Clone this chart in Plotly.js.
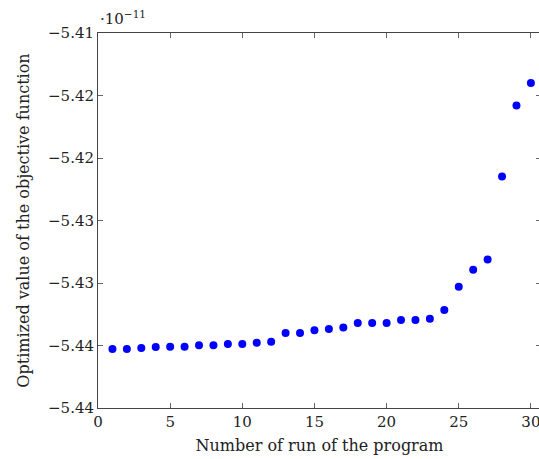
<!DOCTYPE html>
<html>
<head>
<meta charset="utf-8">
<script src="https://cdn.plot.ly/plotly-3.0.1.min.js"></script>
<style>
  html, body { margin: 0; padding: 0; background: #fff; overflow: hidden; }
  #chart { width: 542px; height: 459px; }
</style>
</head>
<body>
<div id="chart"></div>
<script>
// Run index of the program (1..30)
const runs = [1, 2, 3, 4, 5, 6, 7, 8, 9, 10, 11, 12, 13, 14, 15,
              16, 17, 18, 19, 20, 21, 22, 23, 24, 25, 26, 27, 28, 29, 30];

// Optimized objective value for each run, in units of 1e-11
const objective = [-5.43528, -5.43528, -5.43520, -5.43512, -5.43510, -5.43510,
                   -5.43499, -5.43499, -5.43488, -5.43488, -5.43478, -5.43470,
                   -5.43400, -5.43400, -5.43378, -5.43368, -5.43355, -5.43320,
                   -5.43320, -5.43320, -5.43296, -5.43296, -5.43286, -5.43216,
                   -5.43030, -5.42894, -5.42811, -5.42147, -5.41579, -5.41400];

// Axis ticks (labels are rounded to two decimals)
const yTickVals = [-5.440, -5.435, -5.430, -5.425, -5.420, -5.415, -5.410];
const yTickText = ['\u22125.44', '\u22125.44', '\u22125.43', '\u22125.43', '\u22125.42', '\u22125.42', '\u22125.41'];
const xTickVals = [0, 5, 10, 15, 20, 25, 30];

const serif = "'DejaVu Serif', serif";
const ink = '#222';

const trace = {
  x: runs,
  y: objective,
  type: 'scatter',
  mode: 'markers',
  marker: { color: '#0000ff', size: 8 },
  hoverinfo: 'x+y'
};

const layout = {
  width: 542,
  height: 459,
  margin: { l: 98, r: 1, t: 33, b: 51 },
  paper_bgcolor: '#ffffff',
  plot_bgcolor: '#ffffff',
  showlegend: false,
  font: { family: serif, size: 15, color: ink },
  xaxis: {
    range: [0, 30.7],
    tickvals: xTickVals,
    ticktext: xTickVals.map(String),
    ticks: 'inside',
    ticklen: 5,
    tickcolor: '#666',
    showline: true,
    linecolor: '#444',
    linewidth: 1,
    mirror: 'ticks',
    showgrid: false,
    zeroline: false,
    tickfont: { family: serif, size: 15, color: ink },
    title: { text: 'Number of run of the program', font: { family: serif, size: 16, color: ink }, standoff: 9 }
  },
  yaxis: {
    range: [-5.440, -5.410],
    tickvals: yTickVals,
    ticktext: yTickText,
    ticks: 'inside',
    ticklen: 5,
    tickcolor: '#666',
    showline: true,
    linecolor: '#444',
    linewidth: 1,
    mirror: 'ticks',
    showgrid: false,
    zeroline: false,
    tickfont: { family: serif, size: 15, color: ink },
    title: { text: 'Optimized value of the objective function', font: { family: serif, size: 16, color: ink }, standoff: 14 }
  },
  annotations: [{
    xref: 'paper', yref: 'paper',
    x: 0, y: 1,
    xanchor: 'left', yanchor: 'bottom',
    yshift: 3,
    showarrow: false,
    text: '\u00b710<sup>\u221211</sup>',
    font: { family: serif, size: 15, color: ink }
  }]
};

Plotly.newPlot('chart', [trace], layout, { displayModeBar: false, staticPlot: true });
</script>
</body>
</html>
